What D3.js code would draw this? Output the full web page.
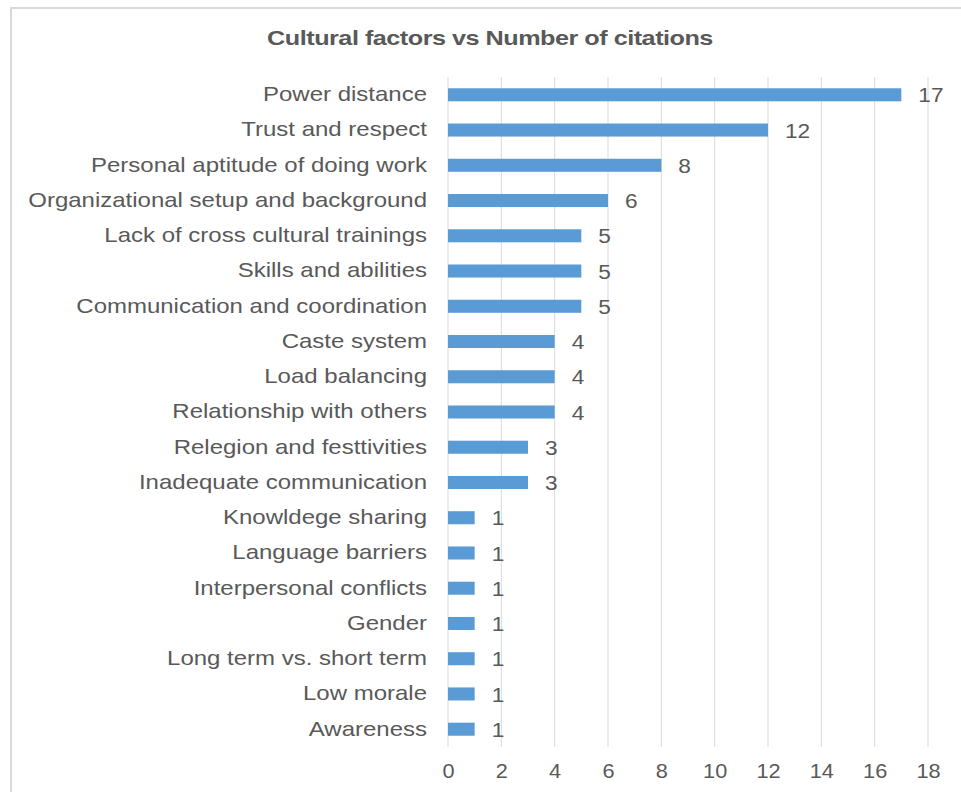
<!DOCTYPE html>
<html>
<head>
<meta charset="utf-8">
<script src="https://cdn.jsdelivr.net/npm/d3@7"></script>
<style>
  body { margin: 0; background: #fff; }
  svg { display: block; font-family: "Liberation Sans", Arial, sans-serif; }
</style>
</head>
<body>
<svg width="961" height="792"></svg>
<script>
const categories = [
  "Power distance",
  "Trust and respect",
  "Personal aptitude of doing work",
  "Organizational setup and background",
  "Lack of cross cultural trainings",
  "Skills and abilities",
  "Communication and coordination",
  "Caste system",
  "Load balancing",
  "Relationship with others",
  "Relegion and festtivities",
  "Inadequate communication",
  "Knowldege sharing",
  "Language barriers",
  "Interpersonal conflicts",
  "Gender",
  "Long term vs. short term",
  "Low morale",
  "Awareness"
];
const citations = [17, 12, 8, 6, 5, 5, 5, 4, 4, 4, 3, 3, 1, 1, 1, 1, 1, 1, 1];
const xTicks = [0, 2, 4, 6, 8, 10, 12, 14, 16, 18];
const title = "Cultural factors vs Number of citations";

const svg = d3.select("svg");
const textColor = "#595959";

// chart area border (cut off at the right and bottom like the source)
svg.append("path")
  .attr("d", "M11,800 L11,8 L970,8")
  .attr("fill", "none")
  .attr("stroke", "#d9d9d9")
  .attr("stroke-width", 2);

const x = d3.scaleLinear().domain([0, 18]).range([448, 928]);
const y = d3.scaleBand().domain(categories).range([77, 747]).paddingInner(0.63).paddingOuter(0.32);

// gridlines
svg.append("g")
  .selectAll("line")
  .data(xTicks)
  .join("line")
  .attr("x1", d => x(d)).attr("x2", d => x(d))
  .attr("y1", 77).attr("y2", 747)
  .attr("stroke", "#d9d9d9")
  .attr("stroke-width", 1);

// x axis labels (source text is a bit stretched horizontally)
svg.append("g")
  .attr("transform", "translate(0,747)")
  .call(d3.axisBottom(x).tickValues(xTicks).tickSize(0).tickPadding(16))
  .call(g => g.select(".domain").remove())
  .selectAll("text")
  .attr("font-size", 20.5)
  .attr("font-family", "Liberation Sans, Arial, sans-serif")
  .attr("fill", textColor)
  .attr("transform", "scale(1.06,1)");

// category labels
svg.append("g")
  .attr("transform", `translate(${x(0) - 21},0)`)
  .call(d3.axisLeft(y).tickSize(0).tickPadding(0))
  .call(g => g.select(".domain").remove())
  .selectAll("text")
  .attr("font-size", 20)
  .attr("font-family", "Liberation Sans, Arial, sans-serif")
  .attr("fill", textColor)
  .attr("transform", "scale(1.2,1)");

// bars
svg.append("g")
  .selectAll("rect")
  .data(categories)
  .join("rect")
  .attr("x", x(0))
  .attr("y", d => y(d))
  .attr("width", (d, i) => x(citations[i]) - x(0))
  .attr("height", y.bandwidth())
  .attr("fill", "#5b9bd5");

// value labels
svg.append("g")
  .selectAll("text")
  .data(categories)
  .join("text")
  .attr("transform", (d, i) => `translate(${x(citations[i]) + 17},${y(d) + y.bandwidth() / 2}) scale(1.08,1)`)
  .attr("dy", "0.36em")
  .attr("font-size", 21)
  .attr("fill", textColor)
  .text((d, i) => citations[i]);

// title
svg.append("text")
  .attr("transform", "translate(490,45) scale(1.23,1)")
  .attr("text-anchor", "middle")
  .attr("font-size", 20.5)
  .attr("font-weight", "bold")
  .attr("letter-spacing", -0.4)
  .attr("fill", textColor)
  .text(title);
</script>
</body>
</html>
